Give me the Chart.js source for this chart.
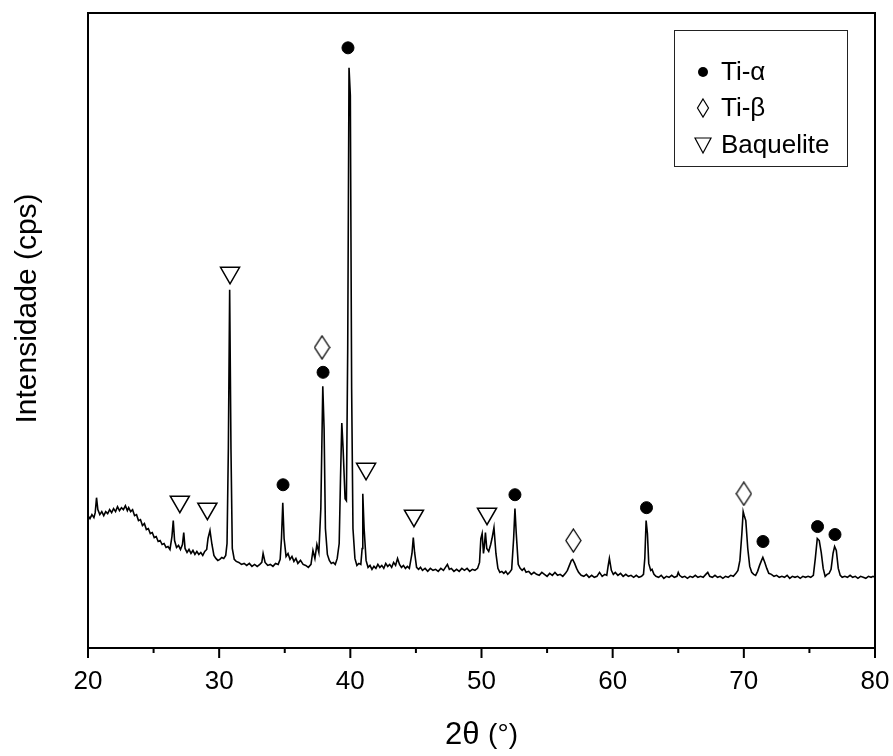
<!DOCTYPE html>
<html>
<head>
<meta charset="utf-8">
<script src="https://cdn.jsdelivr.net/npm/chart.js@4.4.1/dist/chart.umd.min.js"></script>
<style>
  body { margin: 0; background: #fff; }
  #wrap { width: 893px; height: 756px; }
</style>
</head>
<body>
<div id="wrap"><canvas id="xrd" width="893" height="756"></canvas></div>
<script>
// difratograma - valores (intensidade em unidades arbitrarias)
// linhas de 10 valores em angles e intensity se correspondem
var angles = [
  20.0, 20.15, 20.3, 20.45, 20.55, 20.65, 20.75, 20.9, 21.05, 21.2,
  21.35, 21.5, 21.65, 21.8, 21.95, 22.1, 22.25, 22.4, 22.55, 22.7,
  22.85, 23.0, 23.1, 23.25, 23.4, 23.55, 23.7, 23.85, 24.0, 24.15,
  24.3, 24.45, 24.6, 24.75, 24.9, 25.05, 25.2, 25.35, 25.5, 25.65,
  25.8, 25.95, 26.1, 26.25, 26.4, 26.5, 26.6, 26.75, 26.9, 27.05,
  27.2, 27.3, 27.4, 27.55, 27.7, 27.85, 28.0, 28.15, 28.3, 28.45,
  28.6, 28.75, 28.9, 29.05, 29.15, 29.3, 29.45, 29.6, 29.75, 29.9,
  30.05, 30.2, 30.35, 30.5, 30.6, 30.7, 30.8, 30.9, 31.0, 31.15,
  31.3, 31.5, 31.7, 31.9, 32.1, 32.3, 32.5, 32.7, 32.9, 33.1,
  33.25, 33.35, 33.5, 33.7, 33.9, 34.1, 34.3, 34.5, 34.65, 34.75,
  34.85, 34.95, 35.1, 35.25, 35.4, 35.55, 35.7, 35.85, 36.0, 36.2,
  36.4, 36.6, 36.8, 37.0, 37.15, 37.3, 37.45, 37.6, 37.75, 37.9,
  38.0, 38.1, 38.25, 38.4, 38.55, 38.7, 38.85, 39.0, 39.15, 39.25,
  39.35, 39.45, 39.6, 39.7, 39.8, 39.9, 40.0, 40.1, 40.2, 40.35,
  40.5, 40.65, 40.8, 40.9, 40.95, 41.05, 41.2, 41.35, 41.5, 41.65,
  41.8, 41.95, 42.1, 42.25, 42.4, 42.55, 42.7, 42.85, 43.0, 43.15,
  43.3, 43.45, 43.6, 43.75, 43.9, 44.05, 44.2, 44.35, 44.5, 44.7,
  44.8, 44.9, 45.05, 45.2, 45.35, 45.5, 45.7, 45.9, 46.1, 46.3,
  46.5, 46.7, 46.9, 47.1, 47.25, 47.4, 47.55, 47.7, 47.9, 48.1,
  48.3, 48.5, 48.7, 48.9, 49.1, 49.3, 49.5, 49.7, 49.85, 49.95,
  50.05, 50.15, 50.2, 50.3, 50.4, 50.55, 50.7, 50.8, 50.95, 51.1,
  51.25, 51.4, 51.55, 51.7, 51.85, 52.0, 52.15, 52.3, 52.45, 52.55,
  52.65, 52.8, 52.95, 53.1, 53.25, 53.4, 53.6, 53.8, 54.0, 54.2,
  54.4, 54.6, 54.8, 55.0, 55.2, 55.4, 55.6, 55.8, 56.0, 56.2,
  56.4, 56.55, 56.7, 56.85, 56.95, 57.1, 57.25, 57.4, 57.6, 57.8,
  58.0, 58.2, 58.4, 58.6, 58.8, 59.0, 59.2, 59.4, 59.55, 59.65,
  59.75, 59.9, 60.05, 60.2, 60.4, 60.6, 60.8, 61.0, 61.2, 61.4,
  61.6, 61.8, 62.0, 62.2, 62.35, 62.45, 62.55, 62.65, 62.75, 62.9,
  63.0, 63.15, 63.3, 63.5, 63.7, 63.9, 64.1, 64.3, 64.5, 64.7,
  64.9, 65.0, 65.1, 65.3, 65.5, 65.7, 65.9, 66.1, 66.3, 66.5,
  66.7, 66.9, 67.1, 67.25, 67.4, 67.6, 67.8, 68.0, 68.2, 68.4,
  68.6, 68.8, 69.0, 69.2, 69.4, 69.55, 69.7, 69.85, 69.95, 70.05,
  70.15, 70.3, 70.45, 70.6, 70.75, 70.9, 71.05, 71.2, 71.35, 71.45,
  71.6, 71.75, 71.9, 72.1, 72.3, 72.5, 72.7, 72.9, 73.1, 73.3,
  73.5, 73.7, 73.9, 74.1, 74.3, 74.5, 74.7, 74.9, 75.1, 75.3,
  75.45, 75.6, 75.75, 75.9, 76.05, 76.2, 76.35, 76.5, 76.65, 76.8,
  76.92, 77.05, 77.2, 77.35, 77.5, 77.7, 77.9, 78.1, 78.3, 78.5,
  78.7, 78.9, 79.1, 79.3, 79.5, 79.7, 79.85, 80.0
];
var intensity = [
  133, 130, 134, 131, 136, 151, 139, 134, 137, 133,
  137, 135, 139, 136, 140, 137, 142, 138, 141, 139,
  143, 138, 141, 137, 139, 133, 134, 128, 129, 123,
  125, 119, 120, 115, 116, 111, 112, 107, 108, 104,
  105, 101, 102, 99, 112, 128, 108, 101, 103, 99,
  104, 116, 100, 96, 99, 95, 98, 94, 97, 94,
  96, 93, 97, 99, 110, 118, 104, 93, 90, 88,
  89, 91, 90, 93, 105, 200, 360, 200, 100, 89,
  87, 86, 84, 85, 83, 85, 82, 84, 82, 84,
  86, 95, 86, 83, 84, 82, 85, 84, 89, 110,
  146, 110, 92, 95, 89, 92, 87, 90, 85, 88,
  84, 83, 81, 84, 98, 90, 104, 96, 140, 263,
  220, 120, 94, 88, 85, 86, 84, 90, 105, 170,
  226, 200, 150, 148, 300, 583, 555, 260, 120, 90,
  83, 85, 84, 100, 155, 120, 88, 81, 83, 79,
  82, 80, 84, 81, 83, 80, 85, 82, 84, 81,
  86, 83, 90, 84, 81, 83, 80, 82, 80, 95,
  111, 96, 81, 79, 81, 78, 80, 77, 80, 78,
  79, 77, 80, 78, 81, 84, 79, 80, 77, 79,
  77, 80, 78, 80, 77, 79, 78, 80, 86, 110,
  115, 95, 100, 116, 100, 97, 104, 110, 121, 95,
  80, 76, 77, 75, 77, 74, 76, 79, 110, 140,
  115, 84, 80, 78, 80, 76, 77, 74, 76, 74,
  73, 76, 74, 72, 75, 73, 76, 73, 74, 72,
  75, 78, 83, 88, 89, 85, 80, 76, 73, 72,
  74, 71, 73, 71, 72, 76, 72, 74, 73, 82,
  90, 78, 74, 76, 73, 75, 72, 74, 72, 73,
  71, 73, 71, 72, 74, 90, 128, 115, 85, 78,
  79, 74, 72, 71, 73, 70, 72, 71, 73, 71,
  72, 76, 73, 71, 72, 70, 72, 71, 73, 71,
  72, 71, 74, 76, 72, 71, 73, 71, 72, 70,
  72, 71, 73, 72, 75, 78, 88, 115, 137, 132,
  128, 100, 82, 76, 74, 73, 77, 83, 88, 91,
  86, 80, 75, 74, 72, 73, 71, 72, 71, 73,
  70, 72, 71, 72, 70, 72, 71, 72, 71, 73,
  90, 110, 108, 96, 80, 72, 74, 75, 79, 95,
  102, 98, 80, 73, 71, 72, 71, 73, 71, 72,
  70, 72, 71, 70, 72, 71, 72, 71
];

// marcadores das fases
var tiAlphaX = [39.82, 37.92, 34.87, 52.55, 62.58, 71.46, 75.62, 76.95];
var tiAlphaY = [603, 277, 164, 154, 141, 107, 122, 114];
var tiBetaX = [37.84, 57.0, 70.0];
var tiBetaY = [302, 108, 155];
var baqX = [27.0, 29.1, 30.83, 41.2, 44.85, 50.42];
var baqY = [147, 140, 377, 180, 133, 135];

var legendLabels = ['Ti-\u03b1', 'Ti-\u03b2', 'Baquelite'];
var xTitle = '2\u03b8';
var xTitleUnit = '(\u00b0)';
var yTitle = 'Intensidade (cps)';

var FONT = "'Liberation Sans', Arial, sans-serif";

function toPoints(xs, ys) {
    return xs.map(function(x, i) { return { x: x, y: ys[i] }; });
}

// losango alto (o rectRot do Chart.js fica quadrado demais)
function makeDiamond(w, h) {
    var c = document.createElement('canvas');
    c.width = w; c.height = h;
    var g = c.getContext('2d');
    g.strokeStyle = '#000';
    g.lineWidth = 1.3;
    g.beginPath();
    g.moveTo(w / 2, 1);
    g.lineTo(w - 1, h / 2);
    g.lineTo(w / 2, h - 1);
    g.lineTo(1, h / 2);
    g.closePath();
    g.stroke();
    return c;
}

var framePlugin = {
    id: 'frame',
    afterDraw: function(chart) {
        var ctx = chart.ctx;
        var a = chart.chartArea;
        var xs = chart.scales.x;
        ctx.save();
        ctx.strokeStyle = '#000';
        ctx.lineWidth = 2;
        ctx.strokeRect(a.left, a.top, a.right - a.left, a.bottom - a.top);

        // tracos do eixo x: maiores de 10 em 10, menores de 5 em 5
        ctx.beginPath();
        xs.ticks.forEach(function(t) {
            var px = xs.getPixelForValue(t.value);
            var len = (t.value % 10 === 0) ? 10 : 5;
            ctx.moveTo(px, a.bottom);
            ctx.lineTo(px, a.bottom + len);
        });
        ctx.stroke();

        // titulo do eixo x
        ctx.fillStyle = '#000';
        ctx.textBaseline = 'middle';
        ctx.font = '31px ' + FONT;
        var w1 = ctx.measureText(xTitle + ' ').width;
        ctx.font = '28px ' + FONT;
        var w2 = ctx.measureText(xTitleUnit).width;
        var cx = (a.left + a.right) / 2;
        var x0 = cx - (w1 + w2) / 2;
        ctx.textAlign = 'left';
        ctx.font = '31px ' + FONT;
        ctx.fillText(xTitle + ' ', x0, 735);
        ctx.font = '28px ' + FONT;
        ctx.fillText(xTitleUnit, x0 + w1, 735);

        // titulo do eixo y
        ctx.save();
        ctx.translate(28, (a.top + a.bottom) / 2 - 22);
        ctx.rotate(-Math.PI / 2);
        ctx.textAlign = 'center';
        ctx.font = '30px ' + FONT;
        ctx.fillText(yTitle, 0, 0);
        ctx.restore();

        // legenda
        var bx = a.right - 201, by = a.top + 17, bw = 173, bh = 136;
        ctx.lineWidth = 1;
        ctx.strokeStyle = '#222';
        ctx.strokeRect(bx + 0.5, by + 0.5, bw, bh);
        var rows = [by + 42, by + 78, by + 115];
        var sx = bx + 29;
        ctx.fillStyle = '#000';
        ctx.strokeStyle = '#000';
        // ponto
        ctx.beginPath();
        ctx.arc(sx, rows[0], 5, 0, Math.PI * 2);
        ctx.fill();
        // losango
        ctx.lineWidth = 1.2;
        ctx.beginPath();
        ctx.moveTo(sx, rows[1] - 9);
        ctx.lineTo(sx + 5.5, rows[1]);
        ctx.lineTo(sx, rows[1] + 9);
        ctx.lineTo(sx - 5.5, rows[1]);
        ctx.closePath();
        ctx.stroke();
        // triangulo
        ctx.beginPath();
        ctx.moveTo(sx - 8, rows[2] - 7);
        ctx.lineTo(sx + 8, rows[2] - 7);
        ctx.lineTo(sx, rows[2] + 8);
        ctx.closePath();
        ctx.stroke();

        ctx.font = '26px ' + FONT;
        ctx.textAlign = 'left';
        ctx.textBaseline = 'middle';
        legendLabels.forEach(function(lbl, i) {
            ctx.fillText(lbl, bx + 47, rows[i] + 1);
        });
        ctx.restore();
    }
};

var ctx = document.getElementById('xrd').getContext('2d');
var xrdChart = new Chart(ctx, {
    type: 'line',
    data: {
        datasets: [{
            label: 'XRD',
            data: toPoints(angles, intensity),
            borderColor: '#000',
            borderWidth: 1.6,
            pointRadius: 0,
            tension: 0,
            fill: false
        }, {
            label: legendLabels[0],
            data: toPoints(tiAlphaX, tiAlphaY),
            showLine: false,
            pointStyle: 'circle',
            pointRadius: 6,
            backgroundColor: '#000',
            borderColor: '#000'
        }, {
            label: legendLabels[1],
            data: toPoints(tiBetaX, tiBetaY),
            showLine: false,
            pointStyle: makeDiamond(17, 25),
            pointRadius: 12
        }, {
            label: legendLabels[2],
            data: toPoints(baqX, baqY),
            showLine: false,
            pointStyle: 'triangle',
            rotation: 180,
            pointRadius: 11,
            backgroundColor: 'rgba(0,0,0,0)',
            borderColor: '#000',
            borderWidth: 1.5
        }]
    },
    options: {
        responsive: false,
        animation: false,
        layout: { padding: { top: 10, right: 18, left: 0, bottom: 0 } },
        plugins: {
            legend: { display: false },
            tooltip: { enabled: false }
        },
        scales: {
            x: {
                type: 'linear',
                min: 20,
                max: 80,
                grid: { display: false, drawTicks: false },
                border: { display: false },
                ticks: {
                    stepSize: 5,
                    autoSkip: false,
                    maxRotation: 0,
                    padding: 18,
                    color: '#000',
                    font: { family: FONT, size: 26 },
                    callback: function(v) { return v % 10 === 0 ? v : ''; }
                },
                afterFit: function(s) {
                    s.height = 108;
                    s.paddingLeft = 0;
                    s.paddingRight = 0;
                }
            },
            y: {
                min: 0,
                max: 638,
                grid: { display: false, drawTicks: false },
                border: { display: false },
                ticks: { display: false },
                afterFit: function(s) { s.width = 88; }
            }
        }
    },
    plugins: [framePlugin]
});
</script>
</body>
</html>
